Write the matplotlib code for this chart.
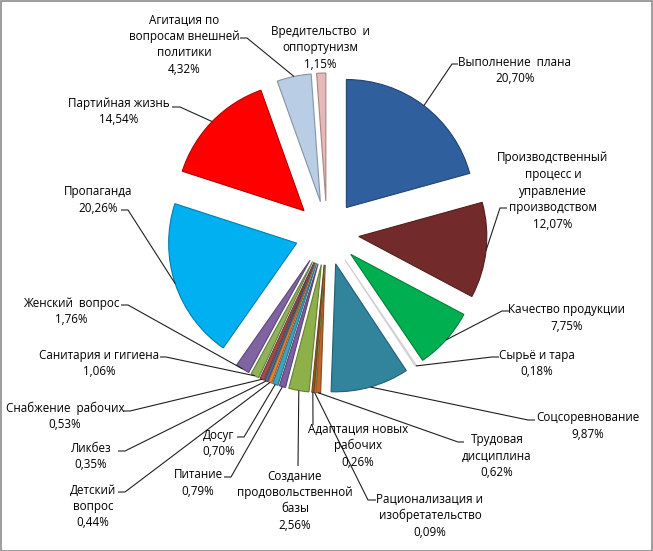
import matplotlib
matplotlib.use("Agg")
import matplotlib.pyplot as plt
import matplotlib.colors as mcolors
from matplotlib.patches import Rectangle
import numpy as np

# ---------------- data ----------------
categories = [
    "Выполнение  плана",
    "Производственный\nпроцесс и\nуправление\nпроизводством",
    "Качество продукции",
    "Сырьё и тара",
    "Соцсоревнование",
    "Трудовая\nдисциплина",
    "Рационализация и\nизобретательство",
    "Адаптация новых\nрабочих",
    "Создание\nпродовольственной\nбазы",
    "Питание",
    "Досуг",
    "Детский\nвопрос",
    "Ликбез",
    "Снабжение  рабочих",
    "Санитария и гигиена",
    "Женский  вопрос",
    "Пропаганда",
    "Партийная жизнь",
    "Агитация по\nвопросам внешней\nполитики",
    "Вредительство  и\nоппортунизм",
]
values = [20.70, 12.07, 7.75, 0.18, 9.87, 0.62, 0.09, 0.26, 2.56, 0.79,
          0.70, 0.44, 0.35, 0.53, 1.06, 1.76, 20.26, 14.54, 4.32, 1.15]

# ---------------- styles / layout ----------------
colors = ["#2F5F9C", "#722B2A", "#00B050", "#F2F2F2", "#31849B", "#C0662A",
          "#9BBB59", "#A05A2C", "#8DB04A", "#7B5FA0", "#3BA4BE", "#E8822F",
          "#4A6FA0", "#A34B49", "#8FB35A", "#8064A2", "#00B0F0", "#FF0000",
          "#B9CDE5", "#E6B9B8"]

# label layout in pixel coords (y down)
label_cx = [515, 553, 567, 537, 588, 497, 430, 358, 295, 198,
            219, 93, 91, 65, 99, 71, 98, 119, 184, 320]
label_y0 = [62, 158, 310, 355, 418, 440, 499, 429, 476, 475,
            435, 490, 448, 408, 355, 303, 192, 103, 20, 31]
anchor_x = [452, 500, 502, 492, 528, 458, 368, 313, 298, 231,
            244, 125, 125, 130, 166, 128, 128, 180, 247, None]
anchor_y = [64, 208, 311, 357, 420, 442, 500, 425, 466, 477,
            437, 492, 451, 411, 357, 305, 210, 107, 38, None]
tick_x = [458, 507, 509, 499, 535, 464, 376, None, None, 224,
          237, 118, 118, 123, 160, 121, 121, 172, 240, None]

W, H = 653, 551
LINE = 16.5
FONT = ["Open Sans", "DejaVu Sans"]
FS = 8.4
RADIUS = 128
EXPLODE = 32

fig = plt.figure(figsize=(W / 100, H / 100), dpi=100)
ax = fig.add_axes([0, 0, 1, 1])

def darker(c, f=0.72):
    r, g, b = mcolors.to_rgb(c)
    return (r * f, g * f, b * f)

def edge_for(c):
    r, g, b = mcolors.to_rgb(c)
    if r + g + b > 2.7:
        return "#D0D0D0"
    return darker(c)

wedges, _ = ax.pie(values, colors=colors, startangle=-90, counterclock=True,
                   explode=[EXPLODE] * len(values), radius=RADIUS,
                   center=(327, 233), wedgeprops=dict(linewidth=0.8))
for w, c in zip(wedges, colors):
    w.set_edgecolor(edge_for(c))

ax.set_xlim(0, W)
ax.set_ylim(H, 0)
ax.set_aspect("equal")
ax.axis("off")

for i, w in enumerate(wedges):
    name = categories[i]
    pct = f"{values[i]:.2f}%".replace(".", ",")
    lines = name.split("\n") + [pct]
    for k, ln in enumerate(lines):
        ax.text(label_cx[i], label_y0[i] + k * LINE, ln, ha="center",
                va="center", fontsize=FS, family=FONT, color="#000000")
    if anchor_x[i] is None:
        continue
    mid = np.deg2rad((w.theta1 + w.theta2) / 2)
    px = w.center[0] + w.r * np.cos(mid)
    py = w.center[1] + w.r * np.sin(mid)
    xs = [px, anchor_x[i]]
    ys = [py, anchor_y[i]]
    if tick_x[i] is not None:
        xs.append(tick_x[i])
        ys.append(anchor_y[i])
    ax.plot(xs, ys, color="#202020", lw=0.8, solid_capstyle="butt")

fig.patches.append(Rectangle((0.5 / W, 0.5 / H), 1 - 1.5 / W, 1 - 1.5 / H,
                             transform=fig.transFigure, fill=False,
                             edgecolor="#8C8C8C", lw=1.2))

fig.savefig("out.png", dpi=100)
